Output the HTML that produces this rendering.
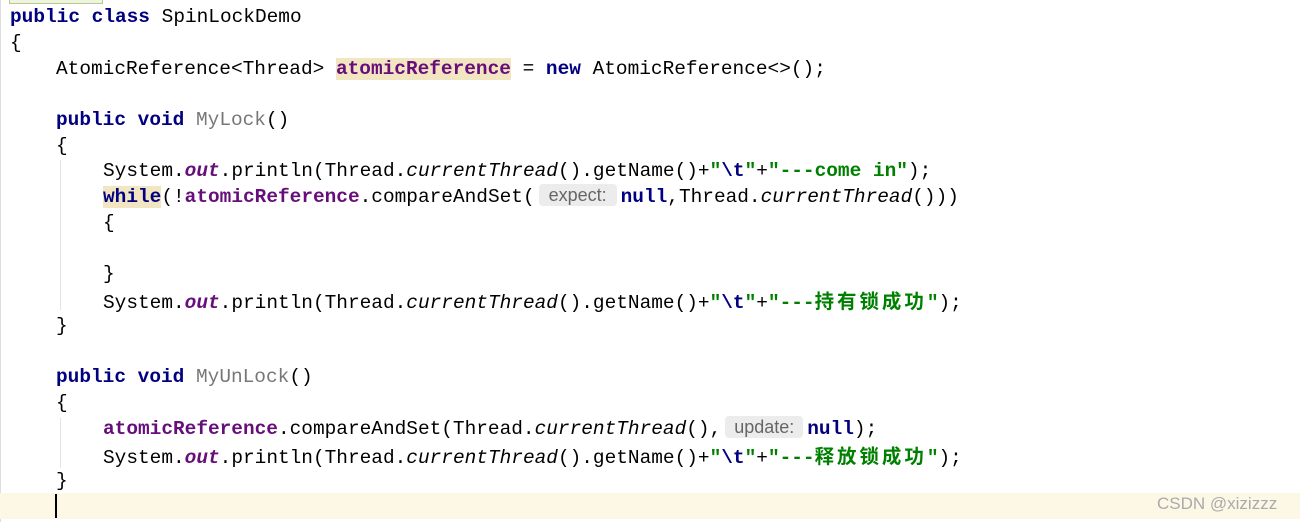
<!DOCTYPE html>
<html><head><meta charset="utf-8"><style>
body{margin:0;width:1300px;height:522px;background:#fff;position:relative;overflow:hidden;font-family:"Liberation Mono","Noto Sans CJK SC",monospace;font-size:19.45px;color:#000}
.l{position:absolute;height:26px;line-height:26px;white-space:pre}
.k{color:#000080;font-weight:bold}
.f{color:#660e7a;font-weight:bold}
.o{color:#660e7a;font-weight:bold;font-style:italic}
.s{color:#008000;font-weight:bold}
.e{color:#000080;font-weight:bold}
.i{font-style:italic}
.g{color:#777}
.hl{background:#f2e6c2}
.h{display:inline-block;background:#ececec;color:#666;font-family:"Liberation Sans",sans-serif;font-size:18px;border-radius:4px;height:22px;line-height:22px;text-align:center;vertical-align:1px;margin:0 4px}
.cn{font-family:"Noto Sans CJK SC",sans-serif;font-weight:bold;letter-spacing:3px}
</style></head><body>
<div style="position:absolute;left:0;top:0;width:1px;height:522px;background:#ddd"></div>
<div style="position:absolute;left:9px;top:0;width:92px;height:3px;border:1px solid #b8c890;border-top:none;background:#eef4dd"></div>
<div style="position:absolute;left:0;top:493px;width:1300px;height:26px;background:#fdf8e6"></div>
<div style="position:absolute;left:55px;top:494px;width:2px;height:24px;background:#000"></div>
<div style="position:absolute;left:60px;top:160px;width:1px;height:150px;background:#e4e4e4"></div>
<div style="position:absolute;left:60px;top:418px;width:1px;height:50px;background:#e4e4e4"></div>
<div class="l" style="left:10px;top:4px"><span class="k">public class</span> SpinLockDemo</div>
<div class="l" style="left:10px;top:30px">{</div>
<div class="l" style="left:56px;top:56px">AtomicReference&lt;Thread&gt; <span class="f hl">atomicReference</span> = <span class="k">new</span> AtomicReference&lt;&gt;();</div>
<div class="l" style="left:56px;top:107px"><span class="k">public void</span> <span class="g">MyLock</span>()</div>
<div class="l" style="left:56px;top:133px">{</div>
<div class="l" style="left:103px;top:158px">System.<span class="o">out</span>.println(Thread.<span class="i">currentThread</span>().getName()+<span class="s">"</span><span class="e">\t</span><span class="s">"</span>+<span class="s">"---come in"</span>);</div>
<div class="l" style="left:103px;top:184px"><span class="k hl">while</span>(!<span class="f">atomicReference</span>.compareAndSet(<span class="h" style="width:78px">expect:</span><span class="k">null</span>,Thread.<span class="i">currentThread</span>()))</div>
<div class="l" style="left:103px;top:210px">{</div>
<div class="l" style="left:103px;top:261px">}</div>
<div class="l" style="left:103px;top:287px">System.<span class="o">out</span>.println(Thread.<span class="i">currentThread</span>().getName()+<span class="s">"</span><span class="e">\t</span><span class="s">"</span>+<span class="s">"---<span class="cn">持有锁成功</span>"</span>);</div>
<div class="l" style="left:56px;top:313px">}</div>
<div class="l" style="left:56px;top:364px"><span class="k">public void</span> <span class="g">MyUnLock</span>()</div>
<div class="l" style="left:56px;top:390px">{</div>
<div class="l" style="left:103px;top:416px"><span class="f">atomicReference</span>.compareAndSet(Thread.<span class="i">currentThread</span>(),<span class="h" style="width:78px">update:</span><span class="k">null</span>);</div>
<div class="l" style="left:103px;top:442px">System.<span class="o">out</span>.println(Thread.<span class="i">currentThread</span>().getName()+<span class="s">"</span><span class="e">\t</span><span class="s">"</span>+<span class="s">"---<span class="cn">释放锁成功</span>"</span>);</div>
<div class="l" style="left:56px;top:468px">}</div>
<div style="position:absolute;left:1157px;top:494px;font-family:'Liberation Sans',sans-serif;font-size:17px;color:#aaa">CSDN @xizizzz</div>
</body></html>
